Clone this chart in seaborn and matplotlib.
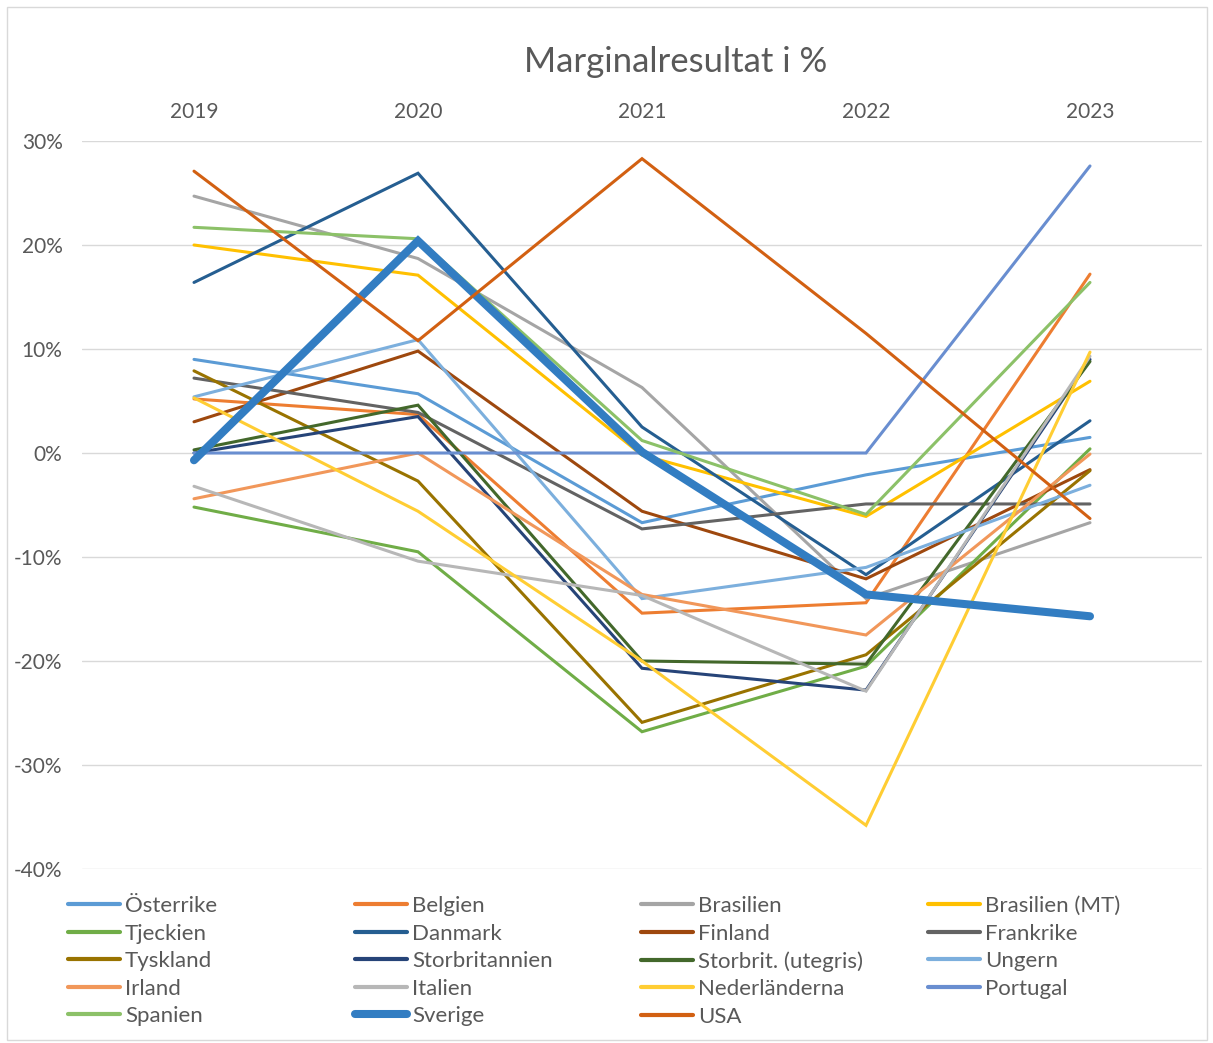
import numpy as np
import pandas as pd
import matplotlib
matplotlib.use("Agg")
from matplotlib import pyplot as plt
from matplotlib.lines import Line2D
from matplotlib.patches import Rectangle
from matplotlib.ticker import FuncFormatter
import seaborn as sns

years = ["2019", "2020", "2021", "2022", "2023"]

countries = ["Österrike", "Belgien", "Brasilien", "Brasilien (MT)", "Tjeckien",
             "Danmark", "Finland", "Frankrike", "Tyskland", "Storbritannien",
             "Storbrit. (utegris)", "Ungern", "Irland", "Italien", "Nederländerna",
             "Portugal", "Spanien", "Sverige", "USA"]

# margin in % per year
osterrike = [9.0, 5.7, -6.7, -2.1, 1.5]
belgien = [5.2, 3.7, -15.4, -14.4, 17.2]
brasilien = [24.7, 18.7, 6.3, -14.0, -6.7]
brasilien_mt = [20.0, 17.1, -0.2, -6.1, 6.9]
tjeckien = [-5.2, -9.5, -26.8, -20.5, 0.4]
danmark = [16.4, 26.9, 2.5, -11.7, 3.1]
finland = [3.0, 9.8, -5.6, -12.1, -1.6]
frankrike = [7.2, 3.9, -7.3, -4.9, -4.9]
tyskland = [7.9, -2.7, -25.9, -19.4, -1.7]
storbritannien = [0.0, 3.5, -20.7, -22.8, 9.0]
storbrit_utegris = [0.3, 4.6, -20.0, -20.3, 8.8]
ungern = [5.4, 10.9, -14.0, -11.0, -3.1]
irland = [-4.4, 0.0, -13.6, -17.5, -0.1]
italien = [-3.2, -10.4, -13.7, -22.9, 9.3]
nederlanderna = [5.3, -5.6, -20.0, -35.8, 9.7]
portugal = [0.0, 0.0, 0.0, 0.0, 27.6]
spanien = [21.7, 20.6, 1.2, -5.9, 16.4]
sverige = [-0.7, 20.4, 0.1, -13.6, -15.7]
usa = [27.1, 10.8, 28.3, 11.5, -6.3]

series = [osterrike, belgien, brasilien, brasilien_mt, tjeckien, danmark,
          finland, frankrike, tyskland, storbritannien, storbrit_utegris,
          ungern, irland, italien, nederlanderna, portugal, spanien, sverige, usa]

colors = ["#5B9BD5", "#ED7D31", "#A5A5A5", "#FFC000", "#70AD47", "#255E91",
          "#9E480E", "#636363", "#997300", "#264478", "#43682B", "#7CAFDD",
          "#F1975A", "#B7B7B7", "#FFCD33", "#698ED0", "#8CC168", "#327DC2",
          "#D26012"]

# tidy frame
df = pd.DataFrame({
    "country": np.repeat(countries, len(years)),
    "year": years * len(countries),
    "value": np.concatenate(series),
})

sns.set_style("white")
plt.rcParams["font.family"] = ["Lato", "DejaVu Sans"]
text_color = "#595959"

fig = plt.figure(figsize=(12.13, 10.43), dpi=100)
ax = fig.add_axes([82 / 1213, 1 - 869 / 1043, 1120 / 1213, 728 / 1043])

for i, name in enumerate(countries):
    lw = 5.8 if name == "Sverige" else 2.2
    sns.lineplot(data=df[df.country == name], x="year", y="value",
                 color=colors[i], linewidth=lw, ax=ax, sort=False,
                 zorder=3 + i, solid_capstyle="round", solid_joinstyle="miter")

ax.set_xlim(-0.5, 4.5)
ax.set_ylim(-40, 30)
ax.set_yticks(np.arange(-40, 31, 10))
ax.yaxis.set_major_formatter(FuncFormatter(lambda v, p: f"{int(v)}%"))
ax.xaxis.tick_top()
ax.tick_params(axis="both", length=0, labelsize=15, colors=text_color)
ax.tick_params(axis="x", pad=14)
ax.tick_params(axis="y", pad=14)
ax.set_xlabel("")
ax.set_ylabel("")
ax.grid(axis="y", color="#D9D9D9", linewidth=1.0, zorder=1)
ax.set_axisbelow(True)
for s in ax.spines.values():
    s.set_visible(False)

fig.text(676 / 1213, 1 - 62 / 1043, "Marginalresultat i %", ha="center",
         va="center", fontsize=25, color=text_color)

# legend, filled row by row like the original, four evenly spaced columns
col_x = [68, 355, 641, 928]
for c in range(4):
    idx = list(range(c, len(countries), 4))
    handles = [Line2D([], [], color=colors[i],
                      linewidth=5.8 if countries[i] == "Sverige" else 3.0,
                      solid_capstyle="round") for i in idx]
    fig.legend(handles, [countries[i] for i in idx], loc="upper left",
               bbox_to_anchor=(col_x[c] / 1213, 1 - 896 / 1043),
               frameon=False, fontsize=16, handlelength=2.34,
               handletextpad=0.23, labelspacing=0.34, borderpad=0,
               borderaxespad=0, labelcolor=text_color)

fig.patches.append(Rectangle((7 / 1213, 3 / 1043), 1200 / 1213, 1033 / 1043,
                             transform=fig.transFigure, fill=False,
                             edgecolor="#D9D9D9", linewidth=1.0))

fig.savefig("out.png", dpi=100)
